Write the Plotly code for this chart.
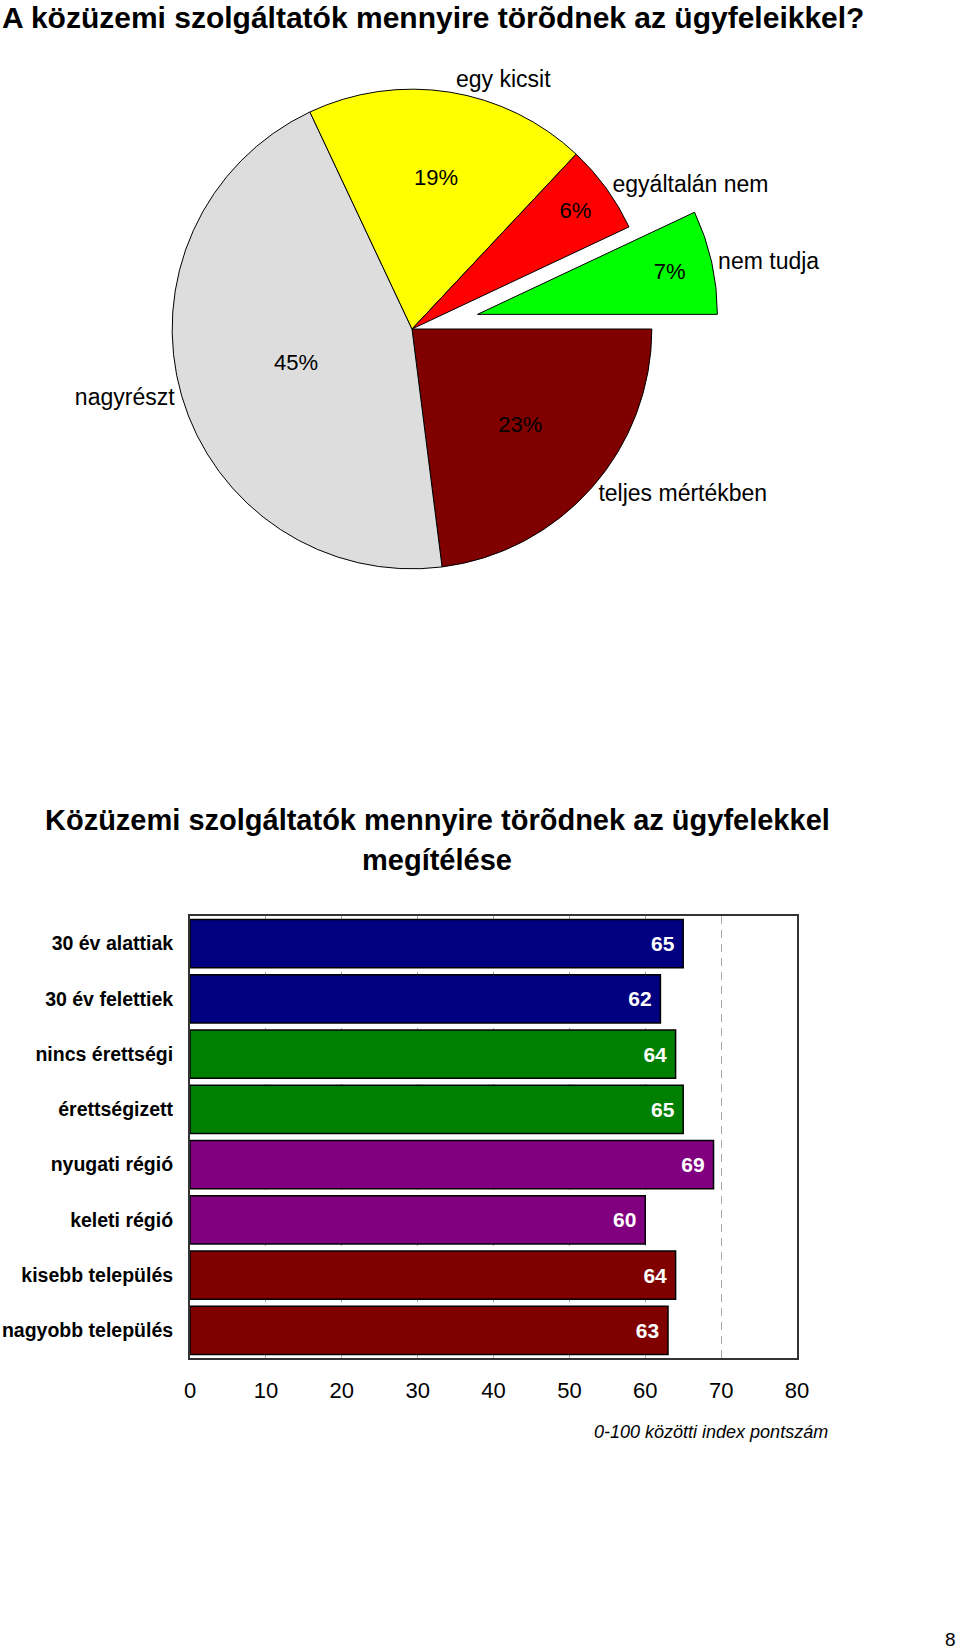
import plotly.graph_objects as go

# pie data
pie_labels = ["teljes mértékben", "nagyrészt", "egy kicsit", "egyáltalán nem", "nem tudja"]
pie_values = [23, 45, 19, 6, 7]
pie_colors = ["#800000", "#DDDDDD", "#FFFF00", "#FF0000", "#00FF00"]
pie_pull = [0, 0, 0, 0, 0.28]

# bar data
bar_groups = ["30 év alattiak", "30 év felettiek", "nincs érettségi", "érettségizett",
              "nyugati régió", "keleti régió", "kisebb település", "nagyobb település"]
bar_values = [65, 62, 64, 65, 69, 60, 64, 63]
bar_colors = ["#000080", "#000080", "#008000", "#008000",
              "#800080", "#800080", "#800000", "#800000"]

W, H = 960, 1652
SANS = "Liberation Sans, Arial, sans-serif"


def px_y(y):
    return 1 - y / H


fig = go.Figure()

# pie, percentages inside
fig.add_trace(go.Pie(
    labels=pie_labels, values=pie_values, sort=False, direction="clockwise",
    rotation=90, pull=pie_pull, automargin=False,
    marker=dict(colors=pie_colors, line=dict(color="black", width=1)),
    texttemplate="%{value}%", textposition="inside",
    insidetextorientation="horizontal",
    textfont=dict(family=SANS, size=22, color="black"),
    domain=dict(x=[105 / W, 719 / W], y=[px_y(636), px_y(22)]),
    showlegend=False, hoverinfo="label+percent",
))
# same pie again, transparent, only for the outside labels
fig.add_trace(go.Pie(
    labels=pie_labels, values=pie_values, sort=False, direction="clockwise",
    rotation=90, pull=pie_pull, automargin=False,
    marker=dict(colors=["rgba(0,0,0,0)"] * 5, line=dict(width=0)),
    textinfo="label", textposition="outside",
    textfont=dict(family=SANS, size=23, color="black"),
    domain=dict(x=[105 / W, 719 / W], y=[px_y(636), px_y(22)]),
    showlegend=False, hoverinfo="skip",
))

fig.add_trace(go.Bar(
    y=bar_groups, x=bar_values, orientation="h",
    marker=dict(color=bar_colors, line=dict(color="black", width=1.5)),
    texttemplate="%{x} ", textposition="inside", insidetextanchor="end",
    textfont=dict(family=SANS, size=21, color="white", weight="bold"),
    showlegend=False,
))

fig.update_layout(
    width=W, height=H, margin=dict(l=0, r=0, t=0, b=0, autoexpand=False),
    paper_bgcolor="white", plot_bgcolor="white",
    bargap=0.13,
    xaxis=dict(
        domain=[190 / W, 797 / W], range=[0, 80], dtick=10, automargin=False,
        showgrid=True, gridcolor="#A8A8A8", griddash="8px,6px", gridwidth=1,
        showline=True, linecolor="#333333", linewidth=2, mirror=True,
        zeroline=False, ticks="", ticklabelstandoff=12,
        tickfont=dict(family=SANS, size=22, color="black"),
    ),
    yaxis=dict(
        domain=[px_y(1358), px_y(916)], autorange="reversed", automargin=False,
        showline=True, linecolor="#333333", linewidth=2, mirror=True,
        ticks="", ticklabelstandoff=11,
        tickfont=dict(family=SANS, size=19.5, color="black", weight="bold"),
    ),
)

# titles and notes
fig.add_annotation(
    text="A közüzemi szolgáltatók mennyire törõdnek az ügyfeleikkel?",
    x=0, y=px_y(17), xref="paper", yref="paper", xanchor="left", yanchor="middle",
    showarrow=False, font=dict(family=SANS, size=30, color="black", weight="bold"),
)
fig.add_annotation(
    text="Közüzemi szolgáltatók mennyire törõdnek az ügyfelekkel",
    x=437 / W, y=px_y(820), xref="paper", yref="paper", xanchor="center", yanchor="middle",
    showarrow=False, font=dict(family=SANS, size=29, color="black", weight="bold"),
)
fig.add_annotation(
    text="megítélése",
    x=437 / W, y=px_y(860), xref="paper", yref="paper", xanchor="center", yanchor="middle",
    showarrow=False, font=dict(family=SANS, size=29, color="black", weight="bold"),
)
fig.add_annotation(
    text="0-100 közötti index pontszám",
    x=830 / W, y=px_y(1432), xref="paper", yref="paper", xanchor="right", yanchor="middle",
    showarrow=False, font=dict(family=SANS, size=18, color="black", style="italic"),
)
fig.add_annotation(
    text="8",
    x=958 / W, y=px_y(1639), xref="paper", yref="paper", xanchor="right", yanchor="middle",
    showarrow=False, font=dict(family=SANS, size=19, color="black"),
)

# the page has a default 8px body margin; drop it so the figure fills the window
fig.write_html("out.html", config={"displayModeBar": False},
               post_script="document.body.style.margin = '0';")
